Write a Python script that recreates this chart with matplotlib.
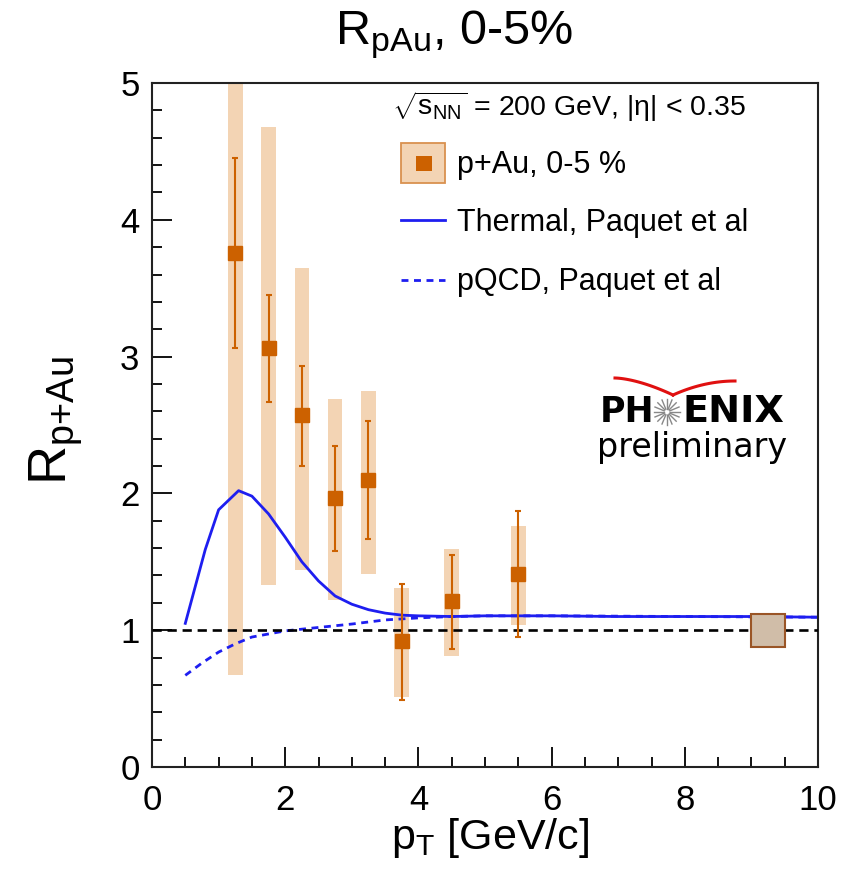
import numpy as np
import matplotlib
matplotlib.use("Agg")
import matplotlib.pyplot as plt
from matplotlib.patches import Rectangle
from matplotlib.ticker import MultipleLocator

plt.rcParams['font.family'] = ['Liberation Sans', 'DejaVu Sans']
plt.rcParams['mathtext.fontset'] = 'custom'
plt.rcParams['mathtext.rm'] = 'Liberation Sans'
plt.rcParams['mathtext.it'] = 'Liberation Sans:italic'

# p+Au 0-5% central data points
pt = [1.25, 1.75, 2.25, 2.75, 3.25, 3.75, 4.5, 5.5]
rpau = [3.76, 3.06, 2.57, 1.97, 2.10, 0.92, 1.21, 1.41]
stat_hi = [4.45, 3.45, 2.93, 2.35, 2.53, 1.34, 1.55, 1.87]
stat_lo = [3.06, 2.67, 2.20, 1.58, 1.67, 0.49, 0.86, 0.95]
sys_hi = [5.3, 4.68, 3.65, 2.69, 2.75, 1.31, 1.59, 1.76]
sys_lo = [0.67, 1.33, 1.44, 1.22, 1.41, 0.51, 0.81, 1.04]

# global normalisation uncertainty
norm_unc = 0.12

# Paquet et al predictions
th_pt = [0.5, 0.8, 1.0, 1.3, 1.5, 1.75, 2.0, 2.25, 2.5, 2.75, 3.0, 3.25, 3.5, 3.75, 4.0, 4.5, 5.0, 6.0, 7.0, 8.0, 9.0, 10.0]
th_r = [1.05, 1.59, 1.88, 2.02, 1.98, 1.85, 1.68, 1.50, 1.36, 1.25, 1.19, 1.15, 1.125, 1.11, 1.105, 1.10, 1.105, 1.105, 1.10, 1.10, 1.10, 1.095]
pq_pt = [0.5, 0.75, 1.0, 1.25, 1.5, 2.0, 2.5, 3.0, 3.5, 4.0, 4.5, 5.0, 6.0, 8.0, 10.0]
pq_r = [0.67, 0.76, 0.84, 0.90, 0.95, 0.995, 1.02, 1.045, 1.075, 1.09, 1.10, 1.105, 1.105, 1.10, 1.095]

orange = '#cc6100'
sysfill = '#f3d4b4'
blue = '#1e1ef0'

fig = plt.figure(figsize=(8.59, 8.73), dpi=100)
ax = fig.add_axes([152/859, 1 - 767/873, 666/859, 684/873])

pt = np.array(pt)
rpau = np.array(rpau)
ax.bar(pt, np.array(sys_hi) - np.array(sys_lo), bottom=sys_lo, width=0.22,
       color=sysfill, edgecolor='none', zorder=1)
ax.plot(th_pt, th_r, color=blue, lw=2.0, zorder=2)
ax.plot(pq_pt, pq_r, color=blue, lw=2.0, ls=(0, (2.5, 2)), zorder=2)
ax.axhline(1.0, color='black', lw=1.9, ls=(0, (3.5, 2.2)), zorder=3)
ax.errorbar(pt, rpau, yerr=[rpau - np.array(stat_lo), np.array(stat_hi) - rpau],
            fmt='s', color=orange, ms=9.5, elinewidth=1.5, capsize=2,
            capthick=1.5, zorder=4)
ax.add_patch(Rectangle((9.0, 1 - norm_unc), 0.5, 2 * norm_unc, facecolor='#d0bda8',
                       edgecolor='#9a5526', lw=1.5, zorder=5))

ax.set_xlim(0, 10)
ax.set_ylim(0, 5)
ax.xaxis.set_major_locator(MultipleLocator(2))
ax.xaxis.set_minor_locator(MultipleLocator(0.5))
ax.yaxis.set_major_locator(MultipleLocator(1))
ax.yaxis.set_minor_locator(MultipleLocator(0.2))
ax.tick_params(which='both', direction='in', width=1.3, labelsize=25, top=False, right=False)
ax.tick_params(which='major', length=14.5)
ax.tick_params(which='minor', length=7.2)
ax.tick_params(axis='x', pad=12)
ax.tick_params(axis='y', pad=9)
for s in ax.spines.values():
    s.set_linewidth(1.5)
    s.set_color('#222222')

fig.text(454/859, 1 - 35/873, r'R$_\mathrm{pAu}$, 0-5%', fontsize=35, ha='center', va='center')
fig.text(56/859, 1 - 421/873, r'R$_\mathrm{p{+}Au}$', fontsize=39, rotation=90, ha='center', va='center')
fig.text(490/859, 1 - 838/873, r'p$_\mathrm{T}$ [GeV/c]', fontsize=31, ha='center', va='center')

# legend and logo drawn in pixel space
ov = fig.add_axes([0, 0, 1, 1], facecolor='none')
ov.set_xlim(0, 859)
ov.set_ylim(873, 0)
ov.axis('off')

fs = 22
ov.text(392, 107, r'$\sqrt{\mathrm{s}_\mathrm{NN}}$ = 200 GeV, |$\mathrm{\eta}$| < 0.35', fontsize=20.5, va='center')
ov.add_patch(Rectangle((401, 143), 44, 40, facecolor=sysfill, edgecolor='#d9914f', lw=1.3))
ov.add_patch(Rectangle((416, 156), 16, 15, facecolor=orange, edgecolor='none'))
ov.text(457, 165, 'p+Au, 0-5 %', fontsize=fs, va='center')
ov.plot([401, 445], [220, 220], color=blue, lw=2.0)
ov.text(457, 223, 'Thermal, Paquet et al', fontsize=fs, va='center')
ov.plot([401, 445], [280, 280], color=blue, lw=2.0, ls=(0, (2.5, 2)))
ov.text(457, 282, 'pQCD, Paquet et al', fontsize=fs, va='center')

ov.text(654, 412, 'PH', fontsize=25, fontweight='bold', family='DejaVu Sans', ha='right', va='center')
ov.text(682, 412, 'ENIX', fontsize=27.5, fontweight='bold', family='DejaVu Sans', ha='left', va='center')
ov.text(692, 448, 'preliminary', fontsize=24, family='DejaVu Sans', ha='center', va='center')
cx, cy = 667, 412
for a in np.linspace(0, 2 * np.pi, 16, endpoint=False):
    ov.plot([cx + 3 * np.cos(a), cx + 13 * np.cos(a)], [cy + 3 * np.sin(a), cy + 13 * np.sin(a)],
            color='#888888', lw=1)
t = np.linspace(0, 1, 30)
ov.plot(615 + 58 * t, 378 + 17 * t ** 1.6, color='#e01010', lw=2.2)
ov.plot(673 + 62 * t, 395 - 14 * (1 - (1 - t) ** 2), color='#e01010', lw=2.2)

fig.savefig('out.png', dpi=100)
